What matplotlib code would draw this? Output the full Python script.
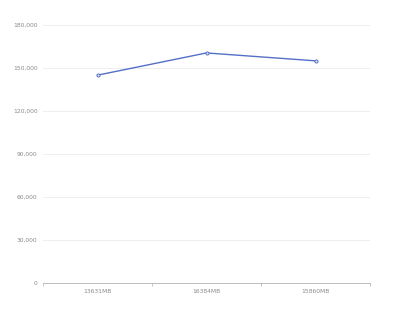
import matplotlib

matplotlib.use("Agg")
import matplotlib.pyplot as plt
from matplotlib.ticker import FuncFormatter

categories = ["13631MB", "16384MB", "15860MB"]
values = [145000, 160500, 155000]
y_ticks = [0, 30000, 60000, 90000, 120000, 150000, 180000]

LINE = "#5470c6"
TEXT = "#8a8a8a"
AXIS = "#bdbdbd"
GRID = "#eeeeee"

fig = plt.figure(figsize=(4.09, 3.14), dpi=100)
ax = fig.add_axes([43 / 409, 31 / 314, 327 / 409, 258 / 314])

x = list(range(len(categories)))
ax.plot(x, values, color=LINE, linewidth=1.0, marker="o", markersize=2.2,
        markerfacecolor="#dfe5f6", markeredgecolor=LINE, markeredgewidth=0.7,
        zorder=3)

ax.set_xlim(-0.5, len(categories) - 0.5)
ax.set_ylim(0, 180000)
ax.set_yticks(y_ticks)
ax.yaxis.set_major_formatter(FuncFormatter(lambda v, _: f"{int(v):,}"))
ax.set_xticks(x)
ax.set_xticklabels(categories)
ax.set_xticks([i - 0.5 for i in range(len(categories) + 1)], minor=True)

ax.grid(axis="y", color=GRID, linewidth=0.7)
ax.set_axisbelow(True)
for side in ("top", "right", "left"):
    ax.spines[side].set_visible(False)
ax.spines["bottom"].set_color(AXIS)
ax.spines["bottom"].set_linewidth(0.7)

ax.tick_params(axis="y", length=0, pad=4, labelsize=4.3, labelcolor=TEXT)
ax.tick_params(axis="x", which="major", length=0, pad=4, labelsize=4.3,
               labelcolor=TEXT)
ax.tick_params(axis="x", which="minor", length=2.5, width=0.6, color=AXIS)

fig.savefig("out.png", dpi=100)
